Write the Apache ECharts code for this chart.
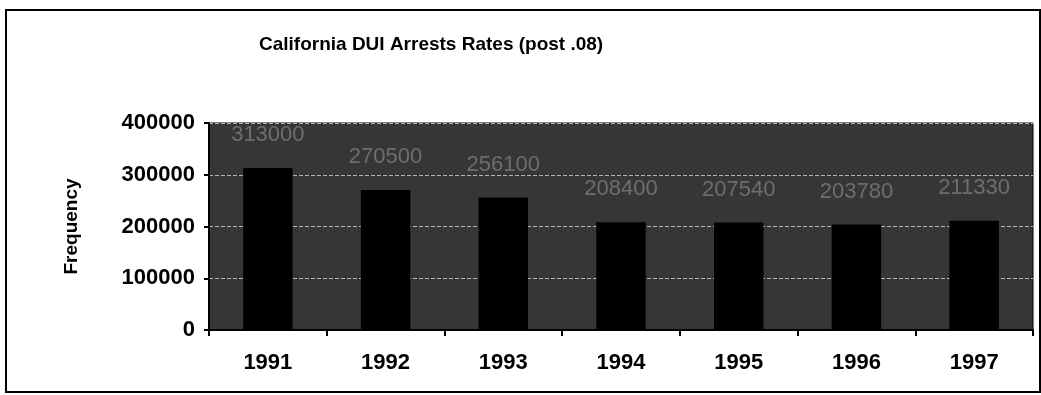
<!DOCTYPE html>
<html lang="en">
<head>
    <meta charset="UTF-8">
    <title>California DUI Arrests Rates</title>
    <script src="https://cdn.jsdelivr.net/npm/echarts@6/dist/echarts.min.js"></script>
    <style>
        html, body { margin: 0; padding: 0; background: #fff; }
        #main { width: 1041px; height: 395px; }
    </style>
</head>
<body>
<div id="main"></div>
<script type="text/javascript">
    // data
    var years = ['1991', '1992', '1993', '1994', '1995', '1996', '1997'];
    var arrests = [313000, 270500, 256100, 208400, 207540, 203780, 211330];
    var yTicks = [0, 100000, 200000, 300000, 400000];

    var myChart = echarts.init(document.getElementById('main'));

    var option = {
        backgroundColor: '#fff',
        animation: false,
        title: {
            text: 'California DUI Arrests Rates (post .08)',
            left: 254,
            top: 30,
            textStyle: {
                fontFamily: 'Liberation Sans, Arial, sans-serif',
                fontWeight: 'bold',
                fontSize: 19,
                color: '#000'
            }
        },
        graphic: [{
            // outer frame of the chart
            type: 'rect',
            shape: {x: 6, y: 10, width: 1034, height: 382},
            style: {fill: 'none', stroke: '#000', lineWidth: 2},
            silent: true
        }],
        grid: {
            left: 209,
            right: 8,
            top: 123,
            bottom: 65,
            show: true,
            backgroundColor: '#363636',
            borderColor: '#000',
            borderWidth: 1
        },
        xAxis: {
            type: 'category',
            data: years,
            axisLine: {lineStyle: {color: '#000', width: 2}},
            axisTick: {show: true, length: 6, lineStyle: {color: '#000', width: 2}},
            axisLabel: {
                margin: 22,
                color: '#000',
                fontFamily: 'Liberation Sans, Arial, sans-serif',
                fontWeight: 'bold',
                fontSize: 22
            }
        },
        yAxis: {
            type: 'value',
            min: yTicks[0],
            max: yTicks[yTicks.length - 1],
            interval: 100000,
            name: 'Frequency',
            nameLocation: 'middle',
            nameGap: 128,
            nameTextStyle: {
                color: '#000',
                fontFamily: 'Liberation Sans, Arial, sans-serif',
                fontWeight: 'bold',
                fontSize: 19
            },
            axisLine: {show: true, lineStyle: {color: '#000', width: 2}},
            axisTick: {show: true, length: 5, lineStyle: {color: '#000', width: 2}},
            axisLabel: {
                margin: 14,
                color: '#000',
                fontFamily: 'Liberation Sans, Arial, sans-serif',
                fontWeight: 'bold',
                fontSize: 22,
                formatter: function (v) { return String(v); }
            },
            splitLine: {
                show: true,
                lineStyle: {color: '#b5b5b5', type: 'dashed', width: 1}
            }
        },
        series: [{
            name: 'Arrests',
            type: 'bar',
            data: arrests,
            barWidth: '42%',
            itemStyle: {color: '#000'},
            label: {
                show: true,
                position: 'top',
                distance: 22,
                color: '#6e6e6e',
                fontFamily: 'Liberation Sans, Arial, sans-serif',
                fontSize: 22
            }
        }]
    };

    myChart.setOption(option);
</script>
</body>
</html>
